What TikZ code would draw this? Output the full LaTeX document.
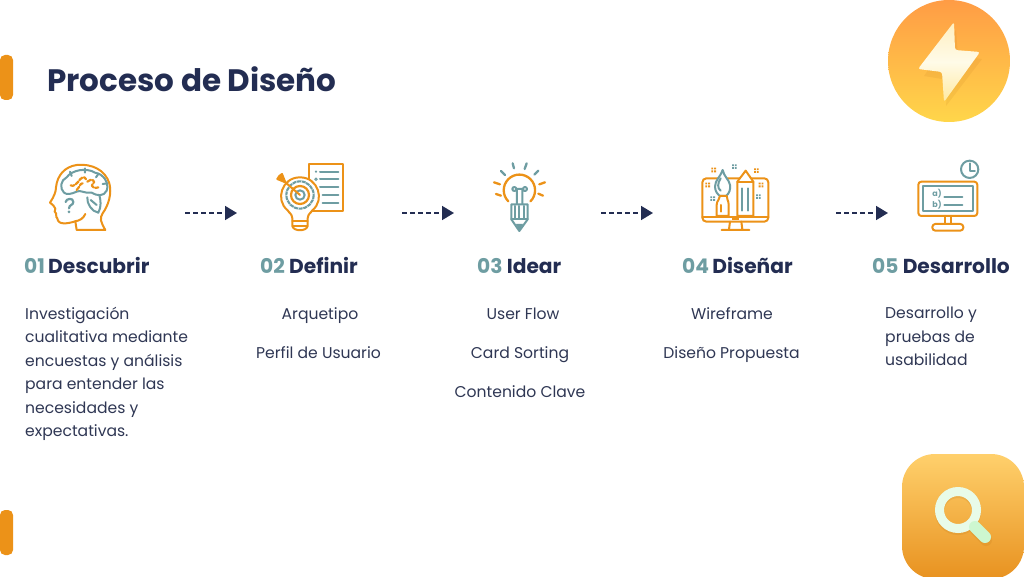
\documentclass[tikz,border=0pt]{standalone}
\usepackage{fontspec}
\setmainfont{Poppins}
\usetikzlibrary{arrows.meta}
\definecolor{navy}{HTML}{232D52}
\definecolor{tealc}{HTML}{6E9DA2}
\definecolor{bodyc}{HTML}{2F3754}
\definecolor{orangec}{HTML}{EC9218}
\definecolor{cTopA}{HTML}{FF9C45}
\definecolor{cBotA}{HTML}{FFD64A}
\definecolor{boltA}{HTML}{FFEFC0}
\definecolor{boltB}{HTML}{FFFBE8}
\definecolor{boltC}{HTML}{FFE9A0}
\definecolor{cTopB}{HTML}{FFD06C}
\definecolor{cBotB}{HTML}{E89220}
\definecolor{ringc}{HTML}{E8FBE8}
\definecolor{handlec}{HTML}{CDF7D0}
\definecolor{shadowc}{HTML}{B36A10}
\tikzset{
  x=1pt,y=-1pt,
  ol/.style={draw=orangec,line width=2pt,line cap=round,line join=round},
  tl/.style={draw=tealc,line width=2pt,line cap=round,line join=round},
  sidebar/.style={fill=orangec,draw=none,rounded corners=5pt},
  titletext/.style={anchor=base west,inner sep=0pt,text=navy,font=\fontsize{31}{36}\selectfont\bfseries},
  headtext/.style={anchor=base west,inner sep=0pt,text=navy,font=\fontsize{20.2}{24}\selectfont\bfseries},
  bodytext/.style={inner sep=0pt,text=bodyc,font=\fontsize{15.6}{23.4}\selectfont},
  flow/.style={draw=navy,line width=1.6pt,dash pattern=on 4.5pt off 3.5pt,-{Triangle[length=12pt,width=14pt]}},
}
\newcommand{\dotsq}[3]{\fill[#1] (#2-7,#3-7) rectangle +(5.500,5.500) (#2+1.500,#3-7) rectangle +(5.500,5.500) (#2-7,#3+1.500) rectangle +(5.500,5.500) (#2+1.500,#3+1.500) rectangle +(5.500,5.500);}
\begin{document}
\begin{tikzpicture}
\useasboundingbox (0,0) rectangle (1024,577);
\fill[white] (0,0) rectangle (1024,577);
% side bars
\path[sidebar] (0,55) rectangle (13,100);
\path[sidebar] (0,510) rectangle (13,555);
% title
\node[titletext] (title) at (47,92) {Proceso de Diseño};
% lightning badge
\shade[top color=cTopA,bottom color=cBotA] (949,61) circle (61);
\fill[shadowc,opacity=.10,line join=round] (956,30) -- (924,76) -- (948,80) -- (946,106) -- (982,59) -- (958,56) -- cycle;
\shade[top color=boltA,bottom color=boltC,middle color=boltB,rounded corners=2.5pt] (954,22) -- (918,69) -- (942,72) -- (944,102) -- (980,52) -- (955,50) -- cycle;
% search badge
\shade[top color=cTopB,bottom color=cBotB,rounded corners=33pt] (902,454) rectangle (1024,579);
\draw[shadowc,opacity=.15,line width=9pt] (958,512) circle (18.5);
\draw[shadowc,opacity=.15,line width=12pt,line cap=round] (976,530) -- (986,540);
\draw[ringc,line width=9pt] (958,510) circle (18.5);
\draw[handlec,line width=12pt,line cap=round] (975,527) -- (985,537);
% headings
\node[headtext] (h1) at (24,273) {\textcolor{tealc}{01}\hspace{-1pt} Descubrir};
\node[headtext] (h2) at (260,273) {\textcolor{tealc}{02} Definir};
\node[headtext] (h3) at (477,273) {\textcolor{tealc}{03} Idear};
\node[headtext] (h4) at (682,273) {\textcolor{tealc}{04}\hspace{-1pt} Diseñar};
\node[headtext] (h5) at (872,273) {\textcolor{tealc}{05} Desarrollo};
% body
\node[bodytext,anchor=north west,align=left] (b1) at (25,307) {Investigación\\cualitativa mediante\\encuestas y análisis\\para entender las\\necesidades y\\expectativas.};
\node[bodytext,anchor=base] (b21) at (320,319) {Arquetipo};
\node[bodytext,anchor=base] (b22) at (318.500,358) {Perfil de Usuario};
\node[bodytext,anchor=base] (b31) at (523,319) {User Flow};
\node[bodytext,anchor=base] (b32) at (520,358) {Card Sorting};
\node[bodytext,anchor=base] (b33) at (520,397) {Contenido Clave};
\node[bodytext,anchor=base] (b41) at (732,319) {Wireframe};
\node[bodytext,anchor=base] (b42) at (731.500,358) {Diseño Propuesta};
\node[bodytext,anchor=north west,align=left] (b5) at (885,307) {Desarrollo y\\pruebas de\\usabilidad};
% arrows
\coordinate (a1s) at (185,213); \coordinate (a1e) at (237,213);
\coordinate (a2s) at (402,213); \coordinate (a2e) at (454,213);
\coordinate (a3s) at (601,213); \coordinate (a3e) at (653,213);
\coordinate (a4s) at (836,213); \coordinate (a4e) at (888,213);
\draw[flow] (a1s) -- (a1e);
\draw[flow] (a2s) -- (a2e);
\draw[flow] (a3s) -- (a3e);
\draw[flow] (a4s) -- (a4e);
% head icon
\begin{scope}[shift={(30,150)},scale=.3333]
\draw[ol] (135,214) .. controls (150,212) and (160,205) .. (166,192);
\draw[ol] (136,214) -- (140,240) -- (226,240) .. controls (212,215) and (208,205) .. (218,190) .. controls (236,165) and (246,130) .. (238,100) .. controls (226,60) and (185,40) .. (140,45) .. controls (105,50) and (82,75) .. (78,112) .. controls (78,125) and (72,140) .. (60,158) .. controls (66,165) and (76,168) .. (76,176) -- (74,185) .. controls (84,192) and (74,200) .. (82,205) .. controls (84,225) and (110,222) .. (136,214);
\draw[tl] (102,128) .. controls (88,115) and (92,90) .. (110,82) .. controls (125,60) and (170,52) .. (195,68) .. controls (222,72) and (238,100) .. (230,122) .. controls (222,140) and (200,138) .. (185,128) .. controls (165,132) and (150,118) .. (140,125) .. controls (125,132) and (110,135) .. (102,128);
\draw[tl] (172,142) .. controls (170,160) and (185,185) .. (205,188) .. controls (215,170) and (212,150) .. (208,135);
\draw[tl] (182,150) -- (200,165);
\draw[tl] (120,65) -- (125,78) (165,55) -- (165,68) (205,72) -- (198,82) (232,100) -- (218,102);
\draw[tl,line width=2.2pt] (107,156) .. controls (108,145) and (130,142) .. (130,156) .. controls (130,166) and (117,164) .. (117,175);
\fill[tealc] (117,186) circle (4.5);
\draw[ol,line width=2.2pt,dash pattern=on 4pt off 1.500pt] (122,106) .. controls (130,112) and (140,100) .. (145,95) .. controls (150,85) and (165,75) .. (168,88);
\draw[ol,line width=2.2pt,dash pattern=on 4pt off 1.500pt] (140,120) .. controls (150,110) and (150,100) .. (158,100);
\draw[ol,line width=2.2pt,dash pattern=on 4pt off 1.500pt] (172,95) .. controls (185,82) and (200,95) .. (188,102) .. controls (180,108) and (195,118) .. (205,112);
\end{scope}
% target bulb icon
\begin{scope}[shift={(260,150)},scale=.3333]
\draw[ol,fill=white] (147,42) rectangle (250,182);
\draw[tl] (180,65) -- (235,65) (180,88) -- (235,88) (180,112) -- (235,112) (188,135) -- (235,135) (188,158) -- (235,158);
\fill[tealc] (168,65) circle (3.5);
\draw[tealc,line width=1pt] (168,88) circle (3.5);
\draw[ol,fill=white] (97,205) .. controls (95,190) and (90,192) .. (82,180) .. controls (45,150) and (65,82) .. (120,82) .. controls (175,82) and (195,150) .. (158,180) .. controls (150,192) and (145,190) .. (143,205) -- (143,228) .. controls (140,245) and (100,245) .. (97,228) -- cycle;
\draw[ol] (97,212) -- (143,212) (100,228) -- (140,228);
\draw[tealc,line width=2.1pt,dash pattern=on 4pt off .7pt] (120,135) circle (41);
\draw[ol,line width=2.2pt] (120,135) circle (27);
\draw[tl] (120,135) circle (14);
\draw[ol] (120,135) -- (76,97);
\draw[ol,fill=orangec] (76,97) -- (66,72) -- (58,78) -- (52,87) -- cycle;
\end{scope}
% idea pencil icon
\begin{scope}[shift={(370,140)},scale=.3333]
\draw[ol,line width=2.3pt] (415,184) arc (135:405:47);
\draw[tealc,line width=2.3pt,line cap=round] (393,93) -- (405,105) (428,70) -- (432,85) (470,70) -- (464,87) (505,92) -- (493,104);
\draw[orangec,line width=2.3pt,line cap=round] (372,127) -- (390,133) (525,127) -- (508,133) (378,162) -- (393,167) (519,167) -- (505,161);
\draw[tl] (433,147) circle (6) (465,147) circle (6) (439,147) -- (459,147) (441,150) -- (441,195) (457,150) -- (457,195);
\draw[tl,fill=white] (424,193) -- (473,193) -- (473,238) -- (448,273) -- (424,238) -- cycle;
\draw[tl] (424,238) -- (473,238) (436,198) -- (436,235) (448,198) -- (448,235) (461,198) -- (461,235);
\fill[tealc] (448,273) -- (438,252) -- (459,252) -- cycle;
\end{scope}
% monitor icon
\begin{scope}[shift={(680,150)},scale=.3333]
\draw[ol,rounded corners=4pt] (67,85) rectangle (265,215);
\draw[ol] (67,200) -- (265,200);
\draw[ol] (150,215) -- (147,238) (184,215) -- (187,238) (125,240) -- (208,240);
\fill[orangec] (156,204) rectangle (176,209);
\draw[tl,fill=white] (128,60) .. controls (122,80) and (105,90) .. (105,110) .. controls (105,125) and (115,135) .. (120,138) -- (138,138) .. controls (148,130) and (152,118) .. (150,105) .. controls (148,90) and (132,80) .. (128,60);
\draw[tl] (122,85) .. controls (112,100) and (112,115) .. (122,122);
\draw[ol,fill=white] (120,138) -- (140,138) .. controls (140,150) and (146,150) .. (146,165) -- (146,198) -- (110,198) -- (110,165) .. controls (110,150) and (120,150) .. (120,138);
\draw[ol] (123,165) -- (123,185);
\draw[ol,fill=white] (197,62) -- (172,95) -- (172,198) -- (220,198) -- (220,95) -- cycle;
\draw[ol] (172,95) -- (220,95);
\draw[tl] (187,115) -- (187,182) (204,115) -- (204,182);
\dotsq{tealc}{163}{50}
\dotsq{orangec}{101}{60}
\dotsq{orangec}{229}{62}
\dotsq{orangec}{83}{105}
\dotsq{orangec}{243}{105}
\dotsq{tealc}{98}{146}
\dotsq{tealc}{235}{140}
\end{scope}
% computer icon
\begin{scope}[shift={(760,0)},scale=.3333]
\draw[ol,rounded corners=3pt] (475,545) rectangle (652,648);
\draw[tl] (490,558) rectangle (638,632);
\node[inner sep=0pt,text=tealc,font=\fontsize{8}{8}\selectfont\bfseries] (qa) at (531,580) {a)};
\node[inner sep=0pt,text=tealc,font=\fontsize{8}{8}\selectfont\bfseries] (qb) at (531,613) {b)};
\draw[tl] (553,590) -- (607,590) (553,615) -- (607,615);
\draw[ol] (555,648) -- (555,672) (573,648) -- (573,672);
\draw[ol,rounded corners=3pt] (517,672) rectangle (610,692);
\draw[tl,fill=white] (629,508) circle (26);
\draw[tl] (629,490) -- (629,512) -- (645,512);
\end{scope}
\end{tikzpicture}
\end{document}
